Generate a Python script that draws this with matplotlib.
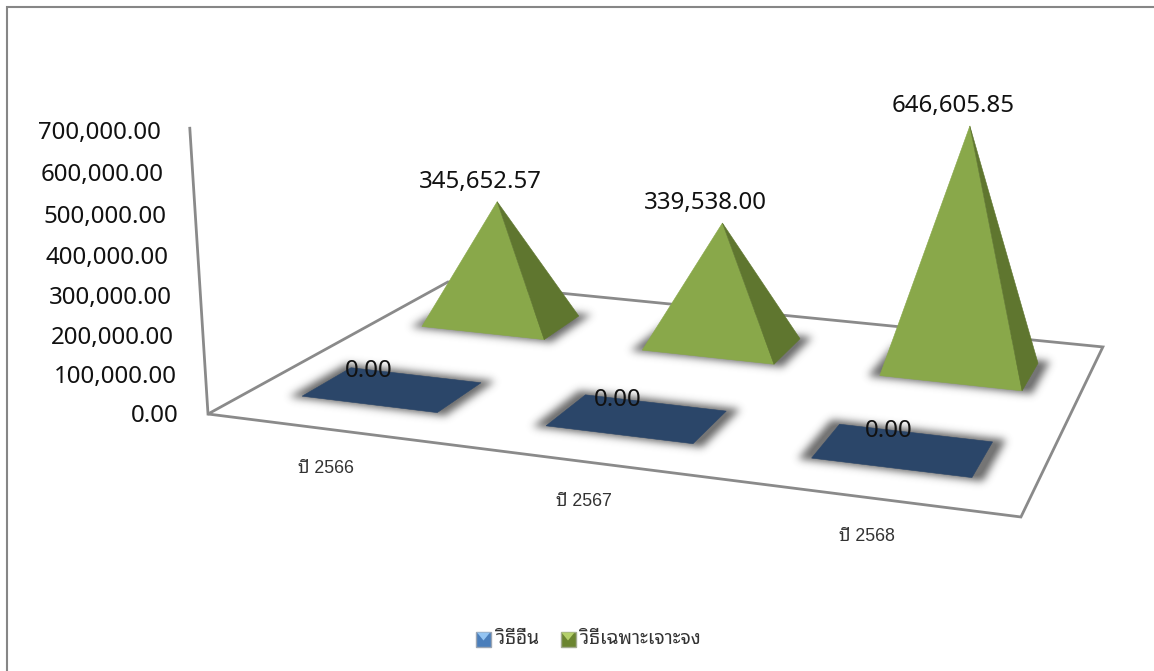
import matplotlib
matplotlib.use('Agg')
import matplotlib.pyplot as plt
from matplotlib.patches import Polygon
from matplotlib.path import Path
import numpy as np

W, H = 1154, 671
THAI = ['Liberation Sans', 'Noto Sans Thai Looped', 'DejaVu Sans']

# ---- data ----
categories = ['ปี 2566', 'ปี 2567', 'ปี 2568']
series_names = ['วิธีอื่น', 'วิธีเฉพาะเจาะจง']
other_values = [0.00, 0.00, 0.00]
specific_values = [345652.57, 339538.00, 646605.85]
axis_ticks = [0, 100000, 200000, 300000, 400000, 500000, 600000, 700000]
axis_max = 700000

# ---- perspective scale of the 3D chart (floor u,v in 0..1, height w in 0..1) ----
CAM_X = (208.0, 685.0, 355.0, -36.0)
CAM_Y = (414.0, 38.2, -59.6, -292.0)
CAM_D = (1.0, -0.1253, 0.2569, -0.0487)
WALL_LEAN = 9.0


def project(u, v, value=0.0):
    w = value / axis_max
    d = CAM_D[0] + CAM_D[1] * u + CAM_D[2] * v + CAM_D[3] * w
    x = (CAM_X[0] + CAM_X[1] * u + CAM_X[2] * v + CAM_X[3] * w) / d
    y = (CAM_Y[0] + CAM_Y[1] * u + CAM_Y[2] * v + CAM_Y[3] * w) / d
    return x, y


def wall_point(value):
    x, y = project(0, 0, value)
    return x + WALL_LEAN * value / axis_max, y


fig = plt.figure(figsize=(W / 100, H / 100), dpi=100, facecolor='white')
ax = fig.add_axes([0, 0, 1, 1])
ax.set_xlim(0, W)
ax.set_ylim(H, 0)
ax.axis('off')

GRID = '#8a8a8a'
# outer chart frame
ax.plot([7, 7, W], [H, 7, 7], color='#868686', lw=1.5, solid_joinstyle='miter', zorder=1)

# floor and wall axis
floor = [project(0, 0), project(1, 0), project(1, 1), project(0, 1)]
ax.add_patch(Polygon(floor, closed=True, fc='white', ec=GRID, lw=2, zorder=2, joinstyle='miter'))
ax.plot(*zip(wall_point(0), wall_point(axis_max)), color=GRID, lw=2, zorder=2)

# value-axis labels
for t in axis_ticks:
    x, y = wall_point(t)
    ax.text(x - 29, y + 2 + 3 * t / axis_max, f'{t:,.2f}', ha='right', va='center',
            fontsize=17.3, family='Noto Sans', color='#111111', zorder=8)

# category labels
for i, c in enumerate(categories):
    x, y = project((i + 0.5) / 3, 0)
    ax.text(x - 3, y + 39, c, ha='center', va='center', fontsize=12.8,
            family=THAI, color='#333333', zorder=8)

DU, DV_FRONT, DV_BACK = 0.094, 0.10, 0.09
z = 10


def shadow(uc, vc, zorder):
    """Blurred drop shadow of a base on the floor."""
    gu, gv = 0.014, 0.020
    q = np.array([project(uc - DU - gu, vc - DV_FRONT - gv * 0.6), project(uc + DU + gu, vc - DV_FRONT - gv * 0.6),
                  project(uc + DU + gu, vc + DV_BACK + gv), project(uc - DU - gu, vc + DV_BACK + gv)])
    pad = 24
    x0, y0 = np.floor(q.min(axis=0)) - pad
    x1, y1 = np.ceil(q.max(axis=0)) + pad
    xs = np.arange(x0, x1) + 0.5
    ys = np.arange(y0, y1) + 0.5
    gx, gy = np.meshgrid(xs, ys)
    mask = Path(q).contains_points(np.c_[gx.ravel(), gy.ravel()]).reshape(gx.shape).astype(float)
    r = np.arange(-14, 15)
    kernel = np.exp(-r ** 2 / (2 * 4.0 ** 2))
    kernel /= kernel.sum()
    blur = np.apply_along_axis(lambda m: np.convolve(m, kernel, mode='same'), 0, mask)
    blur = np.apply_along_axis(lambda m: np.convolve(m, kernel, mode='same'), 1, blur)
    rgba = np.zeros(blur.shape + (4,))
    rgba[..., :3] = 0.25
    rgba[..., 3] = np.clip(blur * 1.1, 0, 1) * 0.72
    ax.imshow(rgba, extent=(x0, x1, y1, y0), origin='upper', interpolation='bilinear',
              zorder=zorder, aspect='auto')


# back row first, so nearer marks lie on top
for j, values in reversed(list(enumerate([other_values, specific_values]))):
    vc = (j + 0.5) / 2
    for i, val in enumerate(values):
        uc = (i + 0.5) / 3
        shadow(uc, vc, z)
        a = project(uc - DU, vc - DV_FRONT)
        b = project(uc + DU, vc - DV_FRONT)
        c = project(uc + DU, vc + DV_BACK)
        d = project(uc - DU, vc + DV_BACK)
        top = project(uc, vc, val)
        if val > 0:
            ax.add_patch(Polygon([a, b, top], closed=True, fc='#89A84A', ec='#89A84A', lw=0.4, zorder=z + 1))
            ax.add_patch(Polygon([b, c, top], closed=True, fc='#5F762F', ec='#5F762F', lw=0.4, zorder=z + 1))
            offx, offy = -17, -20
        else:
            ax.add_patch(Polygon([a, b, c, d], closed=True, fc='#2B4669', ec='#2B4669', lw=0.4, zorder=z + 1))
            top = project(uc, vc)
            offx, offy = -27.5 + 15 * uc, -17.5
        ax.text(top[0] + offx, top[1] + offy, f'{val:,.2f}', ha='center', va='center',
                fontsize=17.3, family='Noto Sans', color='#111111', zorder=30)
    z += 3


# legend
def key(x0, y0, size, base, light, edge):
    ax.add_patch(Polygon([(x0, y0), (x0 + size, y0), (x0 + size, y0 + size), (x0, y0 + size)],
                         closed=True, fc=base, ec=edge, lw=1, zorder=20))
    ax.add_patch(Polygon([(x0 + 1, y0 + 1), (x0 + size - 1, y0 + 1), (x0 + size / 2, y0 + size * 0.6)],
                         closed=True, fc=light, ec='none', zorder=21))


key(476, 631.5, 15, '#4A7EBB', '#93C4F2', '#9aa5b3')
key(560.5, 631.5, 15, '#6B8530', '#B4D06A', '#a3ab90')
ax.text(496, 640, series_names[0], ha='left', va='center', fontsize=13.8, family=THAI, color='#333333', zorder=22)
ax.text(580, 640, series_names[1], ha='left', va='center', fontsize=13.8, family=THAI, color='#333333', zorder=22)

ax.set_xlim(0, W)
ax.set_ylim(H, 0)
fig.savefig('out.png', dpi=100, facecolor='white')
